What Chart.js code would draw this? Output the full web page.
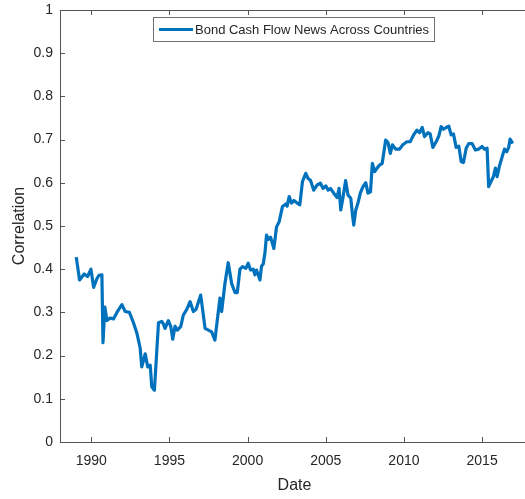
<!DOCTYPE html>
<html>
<head>
<meta charset="utf-8">
<script src="https://cdn.jsdelivr.net/npm/chart.js@4/dist/chart.umd.min.js"></script>
<style>
  html, body { margin: 0; padding: 0; background: #fff; overflow: hidden; }
  #wrap { width: 525px; height: 499px; overflow: hidden; }
</style>
</head>
<body>
<div id="wrap"><canvas id="corrChart" width="532" height="499"></canvas></div>
<script>
// sample dates (decimal years)
var dates = [
	1989.04, 1989.25, 1989.55, 1989.76, 1989.98, 1990.15, 1990.36, 1990.49, 1990.68, 1990.75,
	1990.87, 1991.00, 1991.21, 1991.42, 1991.64, 1991.96, 1992.17, 1992.44, 1992.70, 1992.92,
	1993.13, 1993.23, 1993.45, 1993.61, 1993.77, 1993.87, 1994.04, 1994.30, 1994.51, 1994.62,
	1994.72, 1994.93, 1995.09, 1995.21, 1995.36, 1995.51, 1995.72, 1995.89, 1996.11, 1996.32,
	1996.53, 1996.70, 1997.00, 1997.28, 1997.49, 1997.70, 1997.91, 1998.23, 1998.34, 1998.55,
	1998.76, 1998.98, 1999.19, 1999.34, 1999.51, 1999.68, 1999.89, 2000.04, 2000.19, 2000.36,
	2000.47, 2000.57, 2000.68, 2000.79, 2000.89, 2001.00, 2001.11, 2001.21, 2001.32, 2001.47,
	2001.68, 2001.85, 2002.02, 2002.23, 2002.45, 2002.53, 2002.66, 2002.81, 2002.96, 2003.17,
	2003.34, 2003.51, 2003.72, 2003.87, 2004.02, 2004.23, 2004.45, 2004.66, 2004.83, 2005.00,
	2005.15, 2005.30, 2005.51, 2005.72, 2005.85, 2005.96, 2006.11, 2006.27, 2006.42, 2006.60,
	2006.70, 2006.79, 2006.92, 2007.06, 2007.21, 2007.38, 2007.56, 2007.70, 2007.86, 2007.98,
	2008.13, 2008.28, 2008.44, 2008.61, 2008.83, 2008.98, 2009.13, 2009.26, 2009.47, 2009.72,
	2009.93, 2010.19, 2010.40, 2010.62, 2010.83, 2011.00, 2011.17, 2011.32, 2011.53, 2011.68,
	2011.85, 2012.06, 2012.23, 2012.38, 2012.53, 2012.70, 2012.87, 2013.02, 2013.17, 2013.34,
	2013.51, 2013.66, 2013.81, 2013.98, 2014.15, 2014.36, 2014.57, 2014.79, 2015.00, 2015.15,
	2015.32, 2015.42, 2015.57, 2015.72, 2015.85, 2015.96, 2016.11, 2016.28, 2016.43, 2016.57,
	2016.70, 2016.79, 2016.96
];

var corr = [
	0.428, 0.375, 0.389, 0.383, 0.400, 0.358, 0.378, 0.386, 0.387, 0.230,
	0.312, 0.281, 0.287, 0.285, 0.300, 0.318, 0.302, 0.300, 0.276, 0.252,
	0.217, 0.174, 0.204, 0.174, 0.178, 0.128, 0.120, 0.276, 0.279, 0.273,
	0.263, 0.281, 0.267, 0.238, 0.268, 0.259, 0.267, 0.294, 0.307, 0.325,
	0.302, 0.307, 0.340, 0.263, 0.259, 0.255, 0.236, 0.333, 0.302, 0.367,
	0.415, 0.367, 0.346, 0.346, 0.400, 0.406, 0.402, 0.414, 0.398, 0.400,
	0.387, 0.398, 0.387, 0.375, 0.407, 0.412, 0.438, 0.479, 0.469, 0.474,
	0.448, 0.498, 0.510, 0.545, 0.551, 0.546, 0.568, 0.553, 0.559, 0.553,
	0.549, 0.603, 0.622, 0.610, 0.606, 0.583, 0.595, 0.599, 0.587, 0.593,
	0.583, 0.587, 0.576, 0.566, 0.587, 0.537, 0.568, 0.605, 0.572, 0.564,
	0.529, 0.502, 0.537, 0.553, 0.576, 0.591, 0.600, 0.576, 0.579, 0.645,
	0.626, 0.634, 0.641, 0.645, 0.699, 0.693, 0.668, 0.688, 0.678, 0.678,
	0.688, 0.695, 0.695, 0.711, 0.722, 0.716, 0.728, 0.707, 0.716, 0.713,
	0.682, 0.695, 0.708, 0.730, 0.724, 0.728, 0.731, 0.711, 0.713, 0.682,
	0.685, 0.649, 0.647, 0.680, 0.691, 0.691, 0.676, 0.678, 0.684, 0.678,
	0.680, 0.591, 0.603, 0.614, 0.634, 0.614, 0.639, 0.660, 0.678, 0.672,
	0.682, 0.701, 0.691
];

var xTicks = [1990, 1995, 2000, 2005, 2010, 2015];
var yTicks = [0, 0.1, 0.2, 0.3, 0.4, 0.5, 0.6, 0.7, 0.8, 0.9, 1];
var seriesName = 'Bond Cash Flow News Across Countries';

var lineColor = '#0072BD';
var axisColor = '#555555';
var textColor = '#262626';
var fontFamily = '"Liberation Sans", Arial, Helvetica, sans-serif';

var points = [];
for (var i = 0; i < dates.length; i++) {
	points.push({ x: dates[i], y: corr[i] });
}

// MATLAB style: ticks pointing inward, box line on top, legend box in the axes
var matlabAxes = {
	id: 'matlabAxes',
	afterDraw: function(chart) {
		var c = chart.ctx;
		var area = chart.chartArea;
		var xs = chart.scales.x;
		var ys = chart.scales.y;
		c.save();
		c.strokeStyle = axisColor;
		c.lineWidth = 1;
		c.beginPath();
		// top box line
		c.moveTo(area.left, Math.round(area.top) + 0.5);
		c.lineTo(area.right, Math.round(area.top) + 0.5);
		xs.ticks.forEach(function(t) {
			var px = Math.round(xs.getPixelForValue(t.value)) + 0.5;
			c.moveTo(px, area.bottom);
			c.lineTo(px, area.bottom - 5);
			c.moveTo(px, area.top);
			c.lineTo(px, area.top + 5);
		});
		ys.ticks.forEach(function(t) {
			var py = Math.round(ys.getPixelForValue(t.value)) + 0.5;
			c.moveTo(area.left, py);
			c.lineTo(area.left + 5, py);
		});
		c.stroke();

		// legend box
		var bx = 153.5, by = 17.5, bw = 281, bh = 24;
		c.fillStyle = '#ffffff';
		c.fillRect(bx, by, bw, bh);
		c.strokeStyle = '#707070';
		c.strokeRect(bx, by, bw, bh);
		c.strokeStyle = lineColor;
		c.lineWidth = 3;
		c.beginPath();
		c.moveTo(159, by + bh / 2);
		c.lineTo(193, by + bh / 2);
		c.stroke();
		c.fillStyle = textColor;
		c.font = '13px ' + fontFamily;
		c.textBaseline = 'middle';
		c.textAlign = 'left';
		c.fillText(seriesName, 195, by + bh / 2 + 1);
		c.restore();
	}
};

var ctx = document.getElementById('corrChart');
var corrChart = new Chart(ctx, {
	type: 'line',
	data: {
		datasets: [{
			label: seriesName,
			data: points,
			borderColor: lineColor,
			backgroundColor: lineColor,
			borderWidth: 3.2,
			pointRadius: 0,
			tension: 0,
			borderJoinStyle: 'round'
		}]
	},
	options: {
		responsive: false,
		animation: false,
		devicePixelRatio: 1,
		layout: {
			padding: { top: 10, right: 3, left: 0, bottom: 0 }
		},
		plugins: {
			legend: { display: false },
			tooltip: { enabled: false }
		},
		scales: {
			x: {
				type: 'linear',
				min: 1988,
				max: 2018,
				afterBuildTicks: function(scale) {
					scale.ticks = xTicks.map(function(v) { return { value: v }; });
				},
				afterFit: function(scale) {
					scale.height = 57;
					scale.paddingLeft = 0;
					scale.paddingRight = 0;
				},
				grid: { display: false, drawTicks: false },
				border: { display: true, color: axisColor, width: 1 },
				ticks: {
					padding: 11,
					color: textColor,
					font: { family: fontFamily, size: 14 },
					maxRotation: 0,
					callback: function(v) { return String(v); }
				},
				title: {
					display: true,
					text: 'Date',
					color: textColor,
					font: { family: fontFamily, size: 16 },
					padding: { top: 0, bottom: 4 }
				}
			},
			y: {
				min: 0,
				max: 1,
				afterBuildTicks: function(scale) {
					scale.ticks = yTicks.map(function(v) { return { value: v }; });
				},
				afterFit: function(scale) {
					scale.width = 60;
					scale.paddingTop = 0;
					scale.paddingBottom = 0;
				},
				grid: { display: false, drawTicks: false },
				border: { display: true, color: axisColor, width: 1 },
				ticks: {
					padding: 7,
					color: textColor,
					font: { family: fontFamily, size: 14 },
					callback: function(v) { return String(Math.round(v * 10) / 10); }
				},
				title: {
					display: true,
					text: 'Correlation',
					color: textColor,
					font: { family: fontFamily, size: 16 },
					padding: { top: 10, bottom: 0 }
				}
			}
		}
	},
	plugins: [matlabAxes]
});
</script>
</body>
</html>
